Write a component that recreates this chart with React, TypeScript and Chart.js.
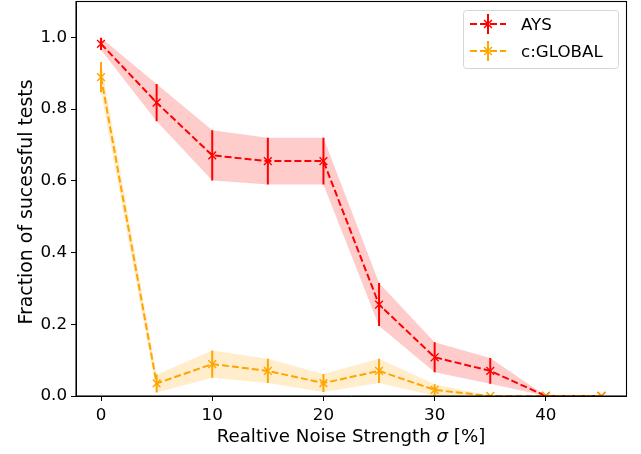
import React, { useEffect, useRef } from 'react';
import { Chart, registerables } from 'chart.js';
Chart.register(...registerables);

const xValues = [0, 5, 10, 15, 20, 25, 30, 35, 40, 45];
const aysMean = [0.982, 0.818, 0.671, 0.655, 0.655, 0.255, 0.108, 0.07, 0, 0];
const aysErr = [0.017, 0.052, 0.07, 0.065, 0.065, 0.06, 0.042, 0.036, 0, 0];
const globalMean = [0.889, 0.035, 0.089, 0.07, 0.036, 0.07, 0.017, 0, 0, 0];
const globalErr = [0.042, 0.025, 0.038, 0.034, 0.025, 0.034, 0.016, 0, 0, 0];
const xTicks = [0, 10, 20, 30, 40];
const yTicks = [0, 0.2, 0.4, 0.6, 0.8, 1.0];
const seriesLabels = ['AYS', 'c:GLOBAL'];
const xTitleParts = ['Realtive Noise Strength ', 'σ', ' [%]'];
const yTitle = 'Fraction of sucessful tests';

const FONT = "'DejaVu Sans', sans-serif";
const RED = '#ff0000';
const ORANGE = '#ffa500';

export default function App() {
  const ref = useRef<HTMLCanvasElement>(null);
  useEffect(() => {
    if (!ref.current) return;
    const series = [
      { label: seriesLabels[0], mean: aysMean, err: aysErr, color: RED, fill: 'rgba(255,0,0,0.2)' },
      { label: seriesLabels[1], mean: globalMean, err: globalErr, color: ORANGE, fill: 'rgba(255,165,0,0.2)' },
    ];
    const datasets: any[] = [];
    series.forEach((s, k) => {
      datasets.push({
        label: s.label,
        data: xValues.map((x, i) => ({ x, y: s.mean[i] })),
        borderColor: s.color,
        backgroundColor: s.color,
        borderWidth: 2,
        borderDash: [7, 3],
        pointStyle: 'crossRot',
        pointRadius: 5.5,
        pointBorderWidth: 1.4,
        pointBorderColor: s.color,
        fill: false,
        clip: 0,
        order: k === 0 ? 1 : 0,
      });
    });
    series.forEach((s) => {
      datasets.push({
        label: s.label + ' upper',
        data: xValues.map((x, i) => ({ x, y: s.mean[i] + s.err[i] })),
        borderWidth: 0,
        borderColor: 'rgba(0,0,0,0)',
        pointRadius: 0,
        backgroundColor: s.fill,
        fill: '+1',
        clip: 0,
        order: 3,
      });
      datasets.push({
        label: s.label + ' lower',
        data: xValues.map((x, i) => ({ x, y: Math.max(s.mean[i] - s.err[i], -1) })),
        borderWidth: 0,
        borderColor: 'rgba(0,0,0,0)',
        pointRadius: 0,
        backgroundColor: s.fill,
        fill: false,
        clip: 0,
        order: 3,
      });
    });

    const errorbarPlugin = {
      id: 'errorbars',
      afterDatasetsDraw(chart: any) {
        const { ctx, chartArea, scales } = chart;
        ctx.save();
        ctx.beginPath();
        ctx.rect(chartArea.left, chartArea.top, chartArea.right - chartArea.left, chartArea.bottom - chartArea.top);
        ctx.clip();
        series.forEach((s) => {
          ctx.strokeStyle = s.color;
          ctx.lineWidth = 2;
          ctx.setLineDash([]);
          xValues.forEach((x, i) => {
            if (s.err[i] <= 0) return;
            const px = scales.x.getPixelForValue(x);
            ctx.beginPath();
            ctx.moveTo(px, scales.y.getPixelForValue(s.mean[i] - s.err[i]));
            ctx.lineTo(px, scales.y.getPixelForValue(s.mean[i] + s.err[i]));
            ctx.stroke();
          });
        });
        ctx.restore();
        // frame
        ctx.save();
        ctx.strokeStyle = '#000';
        ctx.lineWidth = 1.1;
        ctx.strokeRect(chartArea.left, chartArea.top, chartArea.right - chartArea.left, chartArea.bottom - chartArea.top);
        ctx.restore();
      },
    };

    const overlayPlugin = {
      id: 'mplOverlay',
      afterDraw(chart: any) {
        const { ctx } = chart;
        ctx.save();
        // x title with italic sigma
        ctx.fillStyle = '#000';
        ctx.textBaseline = 'alphabetic';
        ctx.textAlign = 'left';
        const fonts = [`18.2px ${FONT}`, `italic 18.2px ${FONT}`, `18.2px ${FONT}`];
        const widths = xTitleParts.map((t, i) => {
          ctx.font = fonts[i];
          return ctx.measureText(t).width;
        });
        const total = widths.reduce((a, b) => a + b, 0);
        let tx = 351 - total / 2;
        xTitleParts.forEach((t, i) => {
          ctx.font = fonts[i];
          ctx.fillText(t, tx, 442);
          tx += widths[i];
        });
        // y title
        ctx.save();
        ctx.textAlign = 'center';
        ctx.font = `18.9px ${FONT}`;
        ctx.translate(32, 202);
        ctx.rotate(-Math.PI / 2);
        ctx.fillText(yTitle, 0, 0);
        ctx.restore();
        // legend
        const bx = 463.5, by = 10.5, bw = 155, bh = 58, r = 3;
        ctx.beginPath();
        ctx.moveTo(bx + r, by);
        ctx.arcTo(bx + bw, by, bx + bw, by + bh, r);
        ctx.arcTo(bx + bw, by + bh, bx, by + bh, r);
        ctx.arcTo(bx, by + bh, bx, by, r);
        ctx.arcTo(bx, by, bx + bw, by, r);
        ctx.closePath();
        ctx.fillStyle = 'rgba(255,255,255,0.8)';
        ctx.fill();
        ctx.strokeStyle = '#d6d6d6';
        ctx.lineWidth = 1;
        ctx.stroke();
        const rows = [24, 51];
        series.forEach((s, k) => {
          const cy = rows[k];
          ctx.strokeStyle = s.color;
          ctx.lineWidth = 2;
          ctx.setLineDash([7, 3]);
          ctx.beginPath();
          ctx.moveTo(470, cy);
          ctx.lineTo(506, cy);
          ctx.stroke();
          ctx.setLineDash([]);
          ctx.beginPath();
          ctx.moveTo(488, cy - 10);
          ctx.lineTo(488, cy + 10);
          ctx.stroke();
          ctx.lineWidth = 1.4;
          const d = 3.9;
          ctx.beginPath();
          ctx.moveTo(488 - d, cy - d);
          ctx.lineTo(488 + d, cy + d);
          ctx.moveTo(488 - d, cy + d);
          ctx.lineTo(488 + d, cy - d);
          ctx.stroke();
          ctx.fillStyle = '#000';
          ctx.font = `16.7px ${FONT}`;
          ctx.textBaseline = 'alphabetic';
          ctx.textAlign = 'left';
          ctx.fillText(s.label, 521, cy + 6);
        });
        ctx.restore();
      },
    };

    const chart = new Chart(ref.current, {
      type: 'line',
      data: { datasets },
      plugins: [errorbarPlugin, overlayPlugin],
      options: {
        animation: false,
        responsive: true,
        maintainAspectRatio: false,
        events: [],
        layout: { autoPadding: false, padding: { top: 1.5, right: 14.5, left: 0, bottom: 0 } },
        plugins: {
          legend: { display: false },
          tooltip: { enabled: false },
        },
        scales: {
          x: {
            type: 'linear',
            min: -2.25,
            max: 47.25,
            afterBuildTicks: (scale: any) => {
              scale.ticks = xTicks.map((v) => ({ value: v }));
            },
            afterFit: (scale: any) => {
              scale.height = 58;
              scale.paddingLeft = 0;
              scale.paddingRight = 0;
            },
            grid: { drawOnChartArea: false, drawTicks: true, tickLength: 5, tickColor: '#000', tickWidth: 1 },
            border: { display: true, color: '#000', width: 1 },
            ticks: {
              color: '#000',
              font: { family: FONT, size: 16.7 },
              padding: 5,
              maxRotation: 0,
              callback: (v: any) => String(v),
            },
            title: { display: false },
          },
          y: {
            type: 'linear',
            min: 0,
            max: 1.1,
            afterBuildTicks: (scale: any) => {
              scale.ticks = yTicks.map((v) => ({ value: v }));
            },
            afterFit: (scale: any) => {
              scale.width = 76;
              scale.paddingTop = 0;
              scale.paddingBottom = 0;
            },
            grid: { drawOnChartArea: false, drawTicks: true, tickLength: 5, tickColor: '#000', tickWidth: 1 },
            border: { display: true, color: '#000', width: 1 },
            ticks: {
              color: '#000',
              font: { family: FONT, size: 16.7 },
              padding: 4,
              callback: (v: any) => Number(v).toFixed(1),
            },
            title: { display: false },
          },
        },
      } as any,
    });
    return () => chart.destroy();
  }, []);
  return (
    <div style={{ position: 'absolute', left: 0, top: 0, width: 641, height: 454, background: '#fff' }}>
      <canvas ref={ref} />
    </div>
  );
}
